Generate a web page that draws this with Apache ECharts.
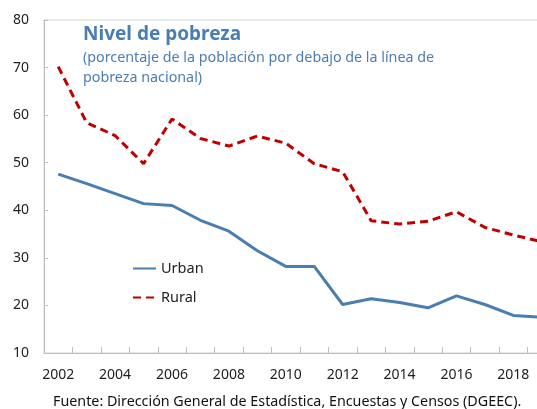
<!DOCTYPE html>
<html>
<head>
<meta charset="utf-8">
<script src="https://cdn.jsdelivr.net/npm/echarts@6/dist/echarts.min.js"></script>
<style>
  html, body { margin: 0; padding: 0; background: #fff; overflow: hidden; }
  /* the source picture is cropped on the right: the plot runs past the edge */
  #wrap { width: 537px; height: 409px; overflow: hidden; }
  #chart { width: 556px; height: 409px; }
</style>
</head>
<body>
<div id="wrap"><div id="chart"></div></div>
<script>
const years = ['2002', '2003', '2004', '2005', '2006', '2007', '2008', '2009', '2010',
  '2011', '2012', '2013', '2014', '2015', '2016', '2017', '2018', '2019']
const urban = [47.6, 45.6, 43.5, 41.4, 41.0, 37.9, 35.6, 31.5, 28.2,
  28.2, 20.2, 21.4, 20.6, 19.5, 22.0, 20.2, 17.9, 17.5]
const rural = [70.2, 58.4, 55.7, 49.8, 59.2, 55.1, 53.5, 55.6, 54.1,
  49.8, 48.1, 37.8, 37.1, 37.7, 39.7, 36.4, 34.8, 33.4]

const font = 'Noto Sans'
const blue = '#4a7eb3'
const red = '#c00000'

const option = {
  animation: false,
  textStyle: { fontFamily: font },
  grid: {
    left: 44, right: 0, top: 20, bottom: 56,
    show: true, borderColor: '#d4d4d4', borderWidth: 1
  },
  title: {
    text: 'Nivel de pobreza',
    subtext: '(porcentaje de la población por debajo de la línea de\npobreza nacional)',
    left: 78, top: 20,
    itemGap: 4,
    textStyle: { color: blue, fontSize: 19, fontWeight: 'bold', fontFamily: font },
    subtextStyle: { color: blue, fontSize: 14.3, lineHeight: 20, fontFamily: font }
  },
  legend: {
    orient: 'vertical',
    left: 127, top: 256,
    itemWidth: 23, itemHeight: 10, itemGap: 14,
    itemStyle: { opacity: 0 },
    textStyle: { fontSize: 14.5, color: '#222', fontFamily: font },
    data: ['Urban', 'Rural']
  },
  graphic: [{
    type: 'text',
    left: 53, top: 395,
    style: {
      text: 'Fuente: Dirección General de Estadística, Encuestas y Censos (DGEEC).',
      fontSize: 14.3, fill: '#111', fontFamily: font
    }
  }],
  xAxis: {
    type: 'category',
    data: years,
    boundaryGap: true,
    axisLine: { lineStyle: { color: '#bfbfbf' } },
    axisTick: { show: true, inside: true, length: 6, interval: 0, lineStyle: { color: '#bfbfbf' } },
    axisLabel: { interval: 1, fontSize: 14, color: '#222', margin: 15 },
    splitLine: { show: false }
  },
  yAxis: {
    type: 'value',
    min: 10, max: 80, interval: 10,
    axisLine: { show: true, lineStyle: { color: '#bfbfbf' } },
    axisTick: { show: true, inside: true, length: 4, lineStyle: { color: '#bfbfbf' } },
    axisLabel: { fontSize: 14, color: '#222', margin: 15 },
    splitLine: { show: false }
  },
  series: [
    {
      name: 'Urban', type: 'line', data: urban,
      symbol: 'none', color: blue,
      lineStyle: { color: blue, width: 3 }
    },
    {
      name: 'Rural', type: 'line', data: rural,
      symbol: 'none', color: red,
      lineStyle: { color: red, width: 3, type: [8, 5] }
    }
  ]
}

const chart = echarts.init(document.getElementById('chart'))
chart.setOption(option)
</script>
</body>
</html>
